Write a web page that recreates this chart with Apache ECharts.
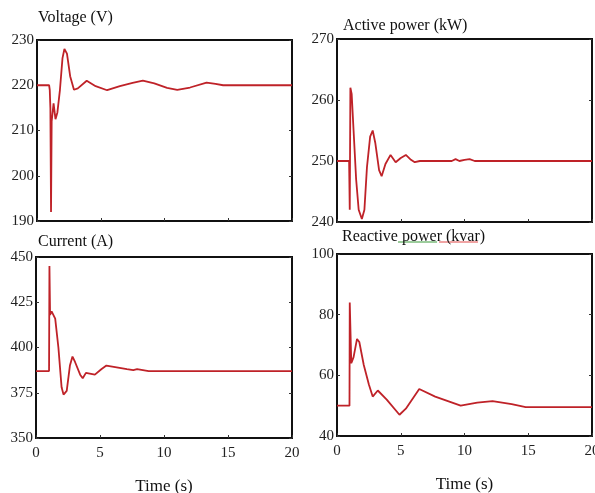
<!DOCTYPE html>
<html>
<head>
<meta charset="utf-8">
<script src="https://cdn.jsdelivr.net/npm/echarts@6/dist/echarts.min.js"></script>
<style>
  html, body { margin: 0; padding: 0; background: #fff; }
  #main { width: 595px; height: 493px; }
</style>
</head>
<body>
<div id="main"></div>
<script>
// time axis ticks (s)
var timeTicks = [0, 5, 10, 15, 20];

// [time s, value]
var voltage = [
  [0, 220], [0.95, 220], [1.0, 219], [1.05, 215], [1.1, 192], [1.15, 212], [1.3, 216],
  [1.45, 212.5], [1.6, 214], [1.8, 219], [2.0, 226], [2.15, 228], [2.35, 227], [2.6, 222],
  [2.9, 219], [3.2, 219.3], [3.9, 221], [4.6, 219.8], [5.5, 218.9], [6.5, 219.8],
  [7.5, 220.5], [8.3, 221], [9.2, 220.4], [10.2, 219.4], [11.0, 219], [12.0, 219.5],
  [13.3, 220.6], [14.0, 220.3], [14.6, 220], [20, 220]
];
var activePower = [
  [0, 250], [0.95, 250], [1.0, 242], [1.05, 262], [1.15, 261], [1.3, 255], [1.5, 247],
  [1.7, 242], [1.95, 240.5], [2.15, 242], [2.35, 249], [2.6, 254], [2.8, 255], [3.0, 253],
  [3.3, 248.5], [3.5, 247.5], [3.8, 249.5], [4.2, 251], [4.6, 249.8], [5.0, 250.5],
  [5.4, 251], [5.8, 250.2], [6.1, 249.8], [6.5, 250], [9.0, 250], [9.3, 250.3], [9.6, 250],
  [10.0, 250.2], [10.4, 250.3], [10.8, 250], [20, 250]
];
var current = [
  [0, 387], [1.02, 387], [1.05, 445], [1.1, 418], [1.22, 420], [1.5, 416], [1.75, 400],
  [2.0, 378], [2.15, 374], [2.4, 376], [2.65, 390], [2.85, 395], [3.05, 392], [3.45, 385],
  [3.65, 383], [3.9, 386], [4.6, 385], [5.1, 388], [5.5, 390], [6.3, 389], [7.1, 388],
  [7.6, 387.5], [7.9, 388], [8.8, 387], [20, 387]
];
var reactivePower = [
  [0, 50], [0.98, 50], [1.0, 84], [1.12, 64], [1.3, 66], [1.57, 72], [1.75, 71], [2.1, 63.4],
  [2.5, 57], [2.8, 53], [3.2, 55], [3.9, 52], [4.9, 47], [5.4, 49], [6.45, 55.5], [7.7, 53],
  [9.7, 50], [11.0, 51], [12.2, 51.5], [13.7, 50.5], [14.8, 49.5], [20, 49.5]
];

var panels = [
  { title: 'Voltage (V)', data: voltage, min: 190, max: 230, step: 10, box: [37, 40, 255, 181], xLabels: false },
  { title: 'Active power (kW)', data: activePower, min: 240, max: 270, step: 10, box: [337, 39, 255, 183], xLabels: false },
  { title: 'Current (A)', data: current, min: 350, max: 450, step: 25, box: [36, 257, 256, 181], xLabels: true },
  { title: 'Reactive power (kvar)', data: reactivePower, min: 40, max: 100, step: 20, box: [337, 254, 255, 182], xLabels: true }
];
var titlePos = [[33, 5], [338, 13], [33, 229], [337, 224]];

var font = 'Liberation Serif';
var lineColor = '#bf2228';

var grid = [], xAxis = [], yAxis = [], series = [], title = [];
panels.forEach(function (p, i) {
  grid.push({
    left: p.box[0], top: p.box[1], width: p.box[2], height: p.box[3],
    outerBoundsMode: 'none', containLabel: false,
    show: true, borderColor: '#111', borderWidth: 2, backgroundColor: '#fff'
  });
  title.push({
    text: p.title, left: titlePos[i][0], top: titlePos[i][1],
    textStyle: { fontFamily: font, fontSize: 16, fontWeight: 'normal', color: '#111' }
  });
  xAxis.push({
    type: 'value', gridIndex: i, min: timeTicks[0], max: timeTicks[timeTicks.length - 1],
    interval: timeTicks[1] - timeTicks[0],
    name: p.xLabels ? 'Time (s)' : '', nameLocation: 'middle', nameGap: 40,
    nameTextStyle: { fontFamily: font, fontSize: 17, color: '#111' },
    axisLine: { show: false },
    axisTick: { show: true, inside: true, length: 3, lineStyle: { color: '#333' } },
    axisLabel: { show: p.xLabels, fontFamily: font, fontSize: 15, color: '#222', margin: 8 },
    splitLine: { show: false }
  });
  yAxis.push({
    type: 'value', gridIndex: i, min: p.min, max: p.max, interval: p.step,
    axisLine: { show: false },
    axisTick: { show: true, inside: true, length: 3, lineStyle: { color: '#333' } },
    axisLabel: { fontFamily: font, fontSize: 15, color: '#222', margin: 3 },
    splitLine: { show: false }
  });
  yAxis.push({
    type: 'value', gridIndex: i, position: 'right', min: p.min, max: p.max, interval: p.step,
    axisLine: { show: false },
    axisTick: { show: true, inside: true, length: 3, lineStyle: { color: '#333' } },
    axisLabel: { show: false },
    splitLine: { show: false }
  });
  series.push({
    type: 'line', xAxisIndex: i, yAxisIndex: i * 2, data: p.data,
    showSymbol: false, lineStyle: { color: lineColor, width: 1.8 }
  });
});

var chart = echarts.init(document.getElementById('main'));
chart.setOption({
  backgroundColor: '#fff',
  animation: false,
  title: title,
  grid: grid,
  xAxis: xAxis,
  yAxis: yAxis,
  series: series,
  graphic: [
    // spell-check underlines under the reactive power title
    { type: 'line', shape: { x1: 398, y1: 242, x2: 437, y2: 242 }, style: { stroke: '#3a9a3a', lineWidth: 1 } },
    { type: 'line', shape: { x1: 439, y1: 242, x2: 478, y2: 242 }, style: { stroke: '#e04848', lineWidth: 1 } }
  ]
});
</script>
</body>
</html>
